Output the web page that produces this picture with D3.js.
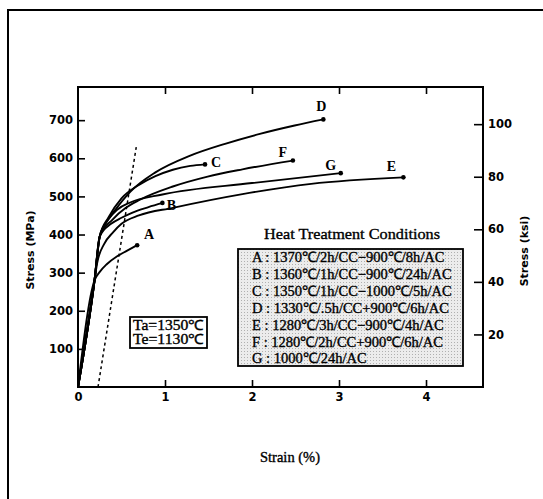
<!DOCTYPE html>
<html>
<head>
<meta charset="utf-8">
<script src="https://cdn.jsdelivr.net/npm/d3@7"></script>
<style>
  body { margin: 0; background: #fff; }
  text { fill: #000; }
  .tick text { font-family: "DejaVu Sans", sans-serif; font-weight: bold; font-size: 11.5px; }
  .serif { font-family: "Liberation Serif", "Times New Roman", serif; }
  .heavy { stroke: #000; stroke-width: 0.35px; }
</style>
</head>
<body>
<svg id="chart" width="543" height="499"></svg>
<script>
//  data: strain (%) vs stress (MPa)
const curveA = [[0, 0], [0.19, 280], [0.25, 302], [0.33, 322], [0.45, 343], [0.56, 357], [0.68, 372]];
const curveB = [[0, 0], [0.19, 280], [0.25, 395], [0.38, 428], [0.5, 444], [0.62, 457], [0.81, 472], [0.97, 483]];
const curveC = [[0, 0], [0.19, 280], [0.25, 395], [0.35, 445], [0.5, 495], [0.7, 530], [0.89, 553], [1.09, 570], [1.29, 580], [1.46, 584]];
const curveD = [[0, 0], [0.19, 280], [0.25, 395], [0.3, 422], [0.42, 462], [0.6, 512], [0.89, 563], [1.29, 607], [1.69, 638], [2.09, 664], [2.49, 686], [2.82, 702]];
const curveE = [[0, 0], [0.19, 280], [0.22, 325], [0.3, 375], [0.4, 405], [0.5, 428], [0.7, 450], [1.09, 470], [1.89, 506], [2.68, 533], [3.74, 550]];
const curveF = [[0, 0], [0.19, 280], [0.25, 395], [0.4, 440], [0.55, 470], [0.7, 490], [1.09, 526], [1.49, 552], [1.89, 571], [2.47, 594]];
const curveG = [[0, 0], [0.19, 280], [0.25, 395], [0.35, 440], [0.45, 465], [0.6, 484], [0.97, 505], [2.0, 535], [3.02, 561]];

const curveNames = ["A", "B", "C", "D", "E", "F", "G"];
const offsetLine = [[0.23, 0], [0.67, 630]];      //  dashed 0.2% offset line

const xTicks = [0, 1, 2, 3, 4];
const mpaTicks = [100, 200, 300, 400, 500, 600, 700];
const ksiTicks = [20, 40, 60, 80, 100];

const legendTitle = "Heat Treatment Conditions";
const legendRows = [
    "A : 1370℃/2h/CC−900℃/8h/AC",
    "B : 1360℃/1h/CC−900℃/24h/AC",
    "C : 1350℃/1h/CC−1000℃/5h/AC",
    "D : 1330℃/.5h/CC+900℃/6h/AC",
    "E : 1280℃/3h/CC−900℃/4h/AC",
    "F : 1280℃/2h/CC+900℃/6h/AC",
    "G : 1000℃/24h/AC"
];
const tempRows = ["Ta=1350℃", "Te=1130℃"];

const MPA_PER_KSI = 6.895;

//  layout
const plot = { left: 78, right: 483, top: 87, bottom: 387 };
const labelOffset = { A: [12, -6], B: [9, 7], C: [11, 3], D: [-2, -8], E: [-12, -6], F: [-10, -4], G: [-10, -3] };

const svg = d3.select("#chart");

//  outer frame (only top & left visible)
svg.append("path").attr("d", "M8,499 L8,10 L543,10")
    .attr("fill", "none").attr("stroke", "#000").attr("stroke-width", 2);

const x = d3.scaleLinear().domain([0, 4.655]).range([plot.left, plot.right]);
const yTop = 787;
const y = d3.scaleLinear().domain([0, yTop]).range([plot.bottom, plot.top]);
const yKsi = d3.scaleLinear().domain([0, yTop / MPA_PER_KSI]).range([plot.bottom, plot.top]);

//  axes
const bottomAxis = svg.append("g").attr("transform", `translate(0,${plot.bottom})`)
    .call(d3.axisBottom(x).tickValues(xTicks).tickSize(-7).tickPadding(6).tickFormat(d3.format("d")));
const topAxis = svg.append("g").attr("transform", `translate(0,${plot.top})`)
    .call(d3.axisTop(x).tickValues(xTicks.slice(1)).tickSize(-7).tickFormat(""));
const leftAxis = svg.append("g").attr("transform", `translate(${plot.left},0)`)
    .call(d3.axisLeft(y).tickValues(mpaTicks).tickSize(-7).tickPadding(5));
const rightAxis = svg.append("g").attr("transform", `translate(${plot.right},0)`)
    .call(d3.axisRight(yKsi).tickValues(ksiTicks).tickSize(-9).tickPadding(5));

[bottomAxis, topAxis, leftAxis, rightAxis].forEach(g => {
    g.select(".domain").remove();
    g.selectAll(".tick line").attr("stroke", "#000").attr("stroke-width", 1.6);
    g.selectAll(".tick text").attr("fill", "#000");
});

//  plot frame
svg.append("rect").attr("x", plot.left).attr("y", plot.top)
    .attr("width", plot.right - plot.left).attr("height", plot.bottom - plot.top)
    .attr("fill", "none").attr("stroke", "#000").attr("stroke-width", 2);

//  axis titles
svg.append("text").attr("transform", `translate(34,${(plot.top + plot.bottom) / 2 + 13}) rotate(-90)`)
    .attr("text-anchor", "middle").attr("fill", "#000")
    .style("font-family", "'DejaVu Sans', sans-serif").style("font-weight", "bold").style("font-size", "11px")
    .text("Stress  (MPa)");
svg.append("text").attr("transform", `translate(528,${(plot.top + plot.bottom) / 2 + 14}) rotate(-90)`)
    .attr("text-anchor", "middle").attr("fill", "#000")
    .style("font-family", "'DejaVu Sans', sans-serif").style("font-weight", "bold").style("font-size", "11px")
    .text("Stress  (ksi)");
svg.append("text").attr("x", 290).attr("y", 462).attr("text-anchor", "middle")
    .classed("serif", true).classed("heavy", true).style("font-size", "14.5px")
    .text("Strain  (%)");

//  dashed offset line
const line = d3.line().x(d => x(d[0])).y(d => y(d[1]));
svg.append("path").attr("d", line(offsetLine))
    .attr("fill", "none").attr("stroke", "#000").attr("stroke-width", 1.5)
    .attr("stroke-dasharray", "3,3");

//  the curves
const smooth = d3.line().x(d => x(d[0])).y(d => y(d[1])).curve(d3.curveMonotoneX);
const curves = [curveA, curveB, curveC, curveD, curveE, curveF, curveG];

curves.forEach((pts, i) => {
    const name = curveNames[i];
    const last = pts[pts.length - 1];
    svg.append("path").attr("d", smooth(pts))
        .attr("fill", "none").attr("stroke", "#000").attr("stroke-width", 1.9);
    svg.append("circle").attr("cx", x(last[0])).attr("cy", y(last[1])).attr("r", 2.3).attr("fill", "#000");
    svg.append("text")
        .attr("x", x(last[0]) + labelOffset[name][0]).attr("y", y(last[1]) + labelOffset[name][1])
        .attr("text-anchor", "middle")
        .classed("serif", true).style("font-weight", "bold").style("font-size", "14px")
        .text(name);
});

//  Ta / Te box
const tBox = svg.append("g").attr("transform", "translate(130,317)");
tBox.append("rect").attr("width", 77).attr("height", 31)
    .attr("fill", "#fff").attr("stroke", "#000").attr("stroke-width", 1.8);
tBox.selectAll("text").data(tempRows).join("text")
    .attr("x", 3).attr("y", (d, i) => 13 + i * 13.5)
    .classed("serif", true).classed("heavy", true).style("font-size", "14px")
    .attr("textLength", 71).attr("lengthAdjust", "spacingAndGlyphs")
    .text(d => d);

//  legend
const defs = svg.append("defs");
const pat = defs.append("pattern").attr("id", "stipple").attr("width", 3).attr("height", 3)
    .attr("patternUnits", "userSpaceOnUse");
pat.append("rect").attr("width", 3).attr("height", 3).attr("fill", "#ececec");
pat.append("rect").attr("width", 1).attr("height", 1).attr("fill", "#b0b0b0");

svg.append("text").attr("x", 352).attr("y", 239).attr("text-anchor", "middle")
    .classed("serif", true).classed("heavy", true).style("font-size", "15px")
    .attr("textLength", 176).attr("lengthAdjust", "spacingAndGlyphs")
    .text(legendTitle);

const legend = svg.append("g").attr("transform", "translate(238,249)");
legend.append("rect").attr("width", 225).attr("height", 117)
    .attr("fill", "url(#stipple)").attr("stroke", "#000").attr("stroke-width", 1.8);
legend.selectAll("text").data(legendRows).join("text")
    .attr("x", 14).attr("y", (d, i) => 13 + i * 16.9)
    .classed("serif", true).classed("heavy", true).style("font-size", "14.5px")
    .text(d => d);
</script>
</body>
</html>
